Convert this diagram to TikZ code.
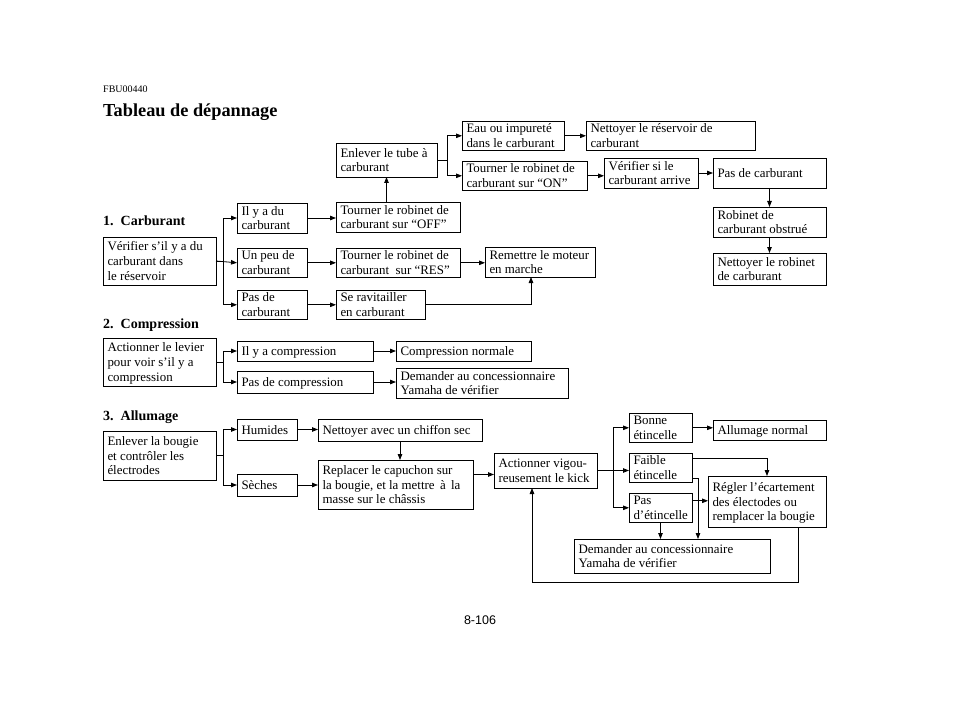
\documentclass[tikz,border=0pt]{standalone}
\usepackage{fontspec}
\setmainfont{Liberation Serif}
\newfontfamily\pnfont{Liberation Sans}
\usetikzlibrary{arrows.meta}
\tikzset{
  box/.style={draw, line width=0.8pt, anchor=north west,
    inner xsep=4.5pt, inner ysep=0pt, outer sep=0pt,
    font=\fontsize{12.9}{14.8}\selectfont},
  arr/.style={draw, line width=0.8pt, -{Triangle[length=6pt,width=4.5pt]}},
  sect/.style={anchor=west, inner sep=0pt, font=\fontsize{14}{16}\selectfont\bfseries}
}
\newcommand\bx[6]{%
  \pgfmathsetmacro\bxw{#4-#2}\pgfmathsetmacro\bxh{#5-#3}\pgfmathsetmacro\bxt{#4-#2-9}%
  \node[box, minimum width=\bxw pt, minimum height=\bxh pt] (#1) at (#2,#3)
    {\makebox[\bxt pt][l]{\raisebox{-1.6pt}[\height][\depth]{\begin{tabular}{@{}l@{}}#6\end{tabular}}}};}
\begin{document}
\begin{tikzpicture}[x=1pt, y=-1pt]
\path[use as bounding box, fill=white] (0,0) rectangle (960,703);

% headings
\node[anchor=west, inner sep=0pt, font=\fontsize{10}{12}\selectfont] (code) at (103,89) {FBU00440};
\node[anchor=west, inner sep=0pt, font=\fontsize{18.3}{22}\selectfont\bfseries] (title) at (103,112) {Tableau de dépannage};
\node[sect] (s1) at (103,221) {1.~~Carburant};
\node[sect] (s2) at (103,325) {2.~~Compression};
\node[sect] (s3) at (103,417) {3.~~Allumage};
\node[inner sep=0pt, font=\fontsize{12.5}{15}\pnfont] (pn) at (480,620) {8-106};

% section 1
\bx{A}{103}{237}{216}{285}{Vérifier s’il y a du\\carburant dans\\le réservoir}
\bx{il}{237}{203}{307}{233}{Il y a du\\carburant}
\bx{peu}{237}{248}{307}{277}{Un peu de\\carburant}
\bx{pasc}{237}{290}{307}{318}{Pas de\\carburant}
\bx{off}{336}{202}{460}{232}{Tourner le robinet de\\carburant sur “OFF”}
\bx{res}{336}{248}{460}{277}{Tourner le robinet de\\carburant~~sur “RES”}
\bx{rav}{336}{290}{425}{318}{Se ravitailler\\en carburant}
\bx{rem}{485}{247}{595}{277}{Remettre le moteur\\en marche}
\bx{tube}{336}{143}{437}{177}{Enlever le tube à\\carburant}
\bx{eau}{462}{121}{564}{150}{Eau ou impureté\\dans le carburant}
\bx{on}{462}{161}{587}{190}{Tourner le robinet de\\carburant sur “ON”}
\bx{netres}{586}{121}{755}{150}{Nettoyer le réservoir de\\carburant}
\bx{verif}{604}{158}{698}{188}{Vérifier si le\\carburant arrive}
\bx{pasdc}{713}{158}{826}{188}{Pas de carburant}
\bx{robo}{713}{207}{826}{237}{Robinet de\\carburant obstrué}
\bx{netrob}{713}{253}{826}{285}{Nettoyer le robinet\\de carburant}

\draw[arr] (A.east) -- ++(7,0) |- (il.west);
\draw[arr] (A.east) -- (peu.west);
\draw[arr] (A.east) -- ++(7,0) |- (pasc.west);
\draw[arr] (il.east) -- (il.east -| off.west);
\draw[arr] (peu.east) -- (peu.east -| res.west);
\draw[arr] (pasc.east) -- (pasc.east -| rav.west);
\draw[arr] (tube.south |- off.north) -- (tube.south);
\draw[arr] (tube.east) -- ++(10,0) |- (eau.west);
\draw[arr] (tube.east) -- ++(10,0) |- (on.west);
\draw[arr] (eau.east) -- (eau.east -| netres.west);
\draw[arr] (on.east) -- (on.east -| verif.west);
\draw[arr] (verif.east) -- (verif.east -| pasdc.west);
\draw[arr] (pasdc.south) -- (robo.north);
\draw[arr] (robo.south) -- (netrob.north);
\draw[arr] (res.east) -- (res.east -| rem.west);
\draw[arr] (rav.east) -| ([xshift=-9pt]rem.south);

% section 2
\bx{lev}{103}{338}{216}{386}{Actionner le levier\\pour voir s’il y a\\compression}
\bx{ilcomp}{237}{341}{373}{361}{Il y a compression}
\bx{pascomp}{237}{371}{373}{393}{Pas de compression}
\bx{cnorm}{396}{341}{531}{361}{Compression normale}
\bx{dem1}{396}{368}{568}{398}{Demander au concessionnaire\\Yamaha de vérifier}

\draw[arr] (lev.east) -- ++(7,0) |- (ilcomp.west);
\draw[arr] (lev.east) -- ++(7,0) |- (pascomp.west);
\draw[arr] (ilcomp.east) -- (ilcomp.east -| cnorm.west);
\draw[arr] (pascomp.east) -- (pascomp.east -| dem1.west);

% section 3
\bx{bou}{103}{431}{216}{480}{Enlever la bougie\\et contrôler les\\électrodes}
\bx{hum}{237}{419}{297}{440}{Humides}
\bx{sec}{237}{474}{297}{496}{Sèches}
\bx{chif}{318}{419}{482}{441}{Nettoyer avec un chiffon sec}
\bx{repl}{318}{460}{473}{509}{Replacer le capuchon sur\\la bougie, et la mettre\,\ à\,\ la\\masse sur le châssis}
\bx{kick}{494}{453}{597}{488}{Actionner vigou-\\reusement le kick}
\bx{bonne}{629}{413}{692}{442}{Bonne\\étincelle}
\bx{faible}{629}{453}{692}{482}{Faible\\étincelle}
\bx{pase}{629}{493}{692}{522}{Pas\\d’étincelle}
\bx{alln}{713}{420}{826}{440}{Allumage normal}
\bx{regl}{708}{476}{826}{527}{Régler l’écartement\\des électodes ou\\remplacer la bougie}
\bx{dem2}{574}{539}{770}{573}{Demander au concessionnaire\\Yamaha de vérifier}

\draw[arr] (bou.east) -- ++(7,0) |- (hum.west);
\draw[arr] (bou.east) -- ++(7,0) |- (sec.west);
\draw[arr] (hum.east) -- (hum.east -| chif.west);
\draw[arr] (sec.east) -- (sec.east -| repl.west);
\draw[arr] (chif.south) -- (chif.south |- repl.north);
\draw[arr] ([yshift=-4pt]kick.west -| repl.east) -- ([yshift=-4pt]kick.west);
\draw[arr] (kick.east) -- ++(16,0) |- (bonne.west);
\draw[arr] (kick.east) -- (kick.east -| faible.west);
\draw[arr] (kick.east) -- ++(16,0) |- (pase.west);
\draw[arr] (bonne.east) -- (bonne.east -| alln.west);
\draw[arr] ([yshift=9pt]faible.east) -| (regl.north);
\draw[arr] ([yshift=-11pt]faible.east) -| ([xshift=26pt]dem2.north);
\draw[arr] ([yshift=7pt]pase.east) -- ([yshift=7pt]pase.east -| regl.west);
\draw[arr] (pase.south) -- (pase.south |- dem2.north);
\draw[arr] ([xshift=31pt]regl.south) -- ++(0,55) -| ([xshift=-13.5pt]kick.south);
\end{tikzpicture}
\end{document}
